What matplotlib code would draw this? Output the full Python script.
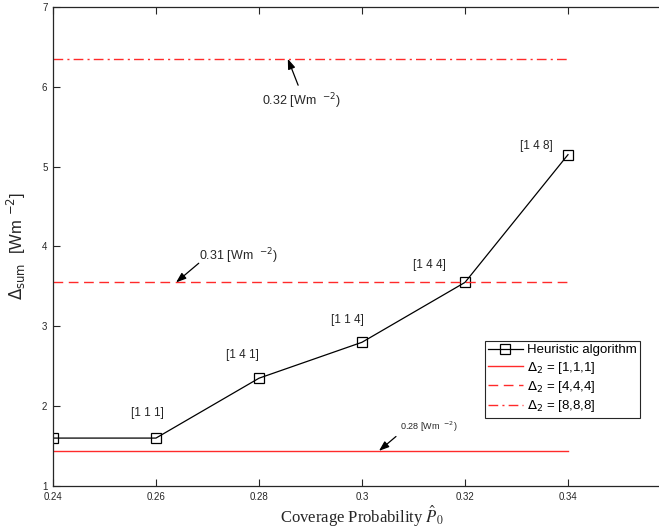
import matplotlib.pyplot as plt
import numpy as np

# Datos
p0 = [0.24, 0.26, 0.28, 0.30, 0.32, 0.34]
delta_sum = [1.60, 1.60, 2.35, 2.80, 3.55, 5.15]
etiquetas = ['[1 1 1]', '[1 1 1]', '[1 4 1]', '[1 1 4]', '[1 4 4]', '[1 4 8]']
niveles = [1.44, 3.55, 6.35]          # Delta_2 = [1,1,1], [4,4,4], [8,8,8]
nombres_niveles = [r'$\Delta_2$ = [1,1,1]', r'$\Delta_2$ = [4,4,4]', r'$\Delta_2$ = [8,8,8]']
potencias = ['0.28', '0.31', '0.32']

plt.rcParams['font.family'] = ['Liberation Sans', 'DejaVu Sans']

fig = plt.figure(figsize=(6.59, 5.32), dpi=100)
ax = fig.add_axes([0.0804, 0.0865, 0.9378, 0.9004])

ax.plot(p0, delta_sum, color='black', lw=0.9, marker='s', ms=7, mfc='none',
        mec='black', mew=0.9, label='Heuristic algorithm')

estilos = ['-', (0, (7, 4)), (0, (7, 3, 1.5, 3))]
for nivel, nombre, ls in zip(niveles, nombres_niveles, estilos):
    ax.plot([p0[0], p0[-1]], [nivel, nivel], color='#ff2a2a', lw=1, ls=ls, label=nombre)

# Etiquetas de cada punto (parte superior izquierda del marcador)
pos_etq = [None, (0.2584, 1.91), (0.2767, 2.64), (0.2971, 3.08), (0.3130, 3.77), (0.3338, 5.26)]
for pos, txt in zip(pos_etq, etiquetas):
    if pos is None:
        continue
    ax.text(pos[0], pos[1], txt, ha='center', va='center', fontsize=8.5, color='#262626')

# Flechas hacia las lineas horizontales
flechas = [
    ((0.3033, niveles[0]), (0.3066, 1.62), (0.3074, 1.74), 6.5),
    ((0.2639, niveles[1]), (0.2683, 3.79), (0.2683, 3.88), 9),
    ((0.2856, niveles[2]), (0.2876, 6.02), (0.2806, 5.82), 9),
]
for (punta, cola, pos_txt, fs), pw in zip(flechas, potencias):
    ax.annotate('', xy=punta, xytext=cola,
                arrowprops=dict(arrowstyle='-|>,head_length=0.6,head_width=0.22',
                                color='black', lw=0.9, shrinkA=0, shrinkB=0))
    ax.text(pos_txt[0], pos_txt[1], pw + r' [Wm  $^{-2}$)', ha='left', va='center',
            fontsize=fs, color='#262626', math_fontfamily='dejavusans')

ax.set_xlim(0.24, 0.36)
ax.set_ylim(1, 7)
ax.set_xticks([0.24, 0.26, 0.28, 0.30, 0.32, 0.34])
ax.set_xticklabels(['0.24', '0.26', '0.28', '0.3', '0.32', '0.34'])
ax.set_yticks(np.arange(1, 8))
ax.tick_params(direction='in', top=True, right=True, labelsize=7, length=5,
               width=0.8, colors='#262626', pad=4)
for s in ax.spines.values():
    s.set_color('#262626')
    s.set_linewidth(0.9)

ax.set_xlabel(r'Coverage Probability $\hat{P}_0$', fontsize=12,
              family='Liberation Serif', math_fontfamily='stix', color='#262626', labelpad=2)
ax.set_ylabel(r'$\Delta_{\rm sum}$  [Wm $^{-2}$]', fontsize=12,
              math_fontfamily='dejavusans', color='#262626', labelpad=10)

leg = ax.legend(loc='upper left', bbox_to_anchor=(0.699, 0.303), fontsize=9.5,
                frameon=True, fancybox=False, framealpha=1, edgecolor='#262626',
                handlelength=2.6, handletextpad=0.3, borderpad=0.25, labelspacing=0.25,
                borderaxespad=0)
leg.get_frame().set_linewidth(0.8)

fig.savefig('out.png', dpi=100)
